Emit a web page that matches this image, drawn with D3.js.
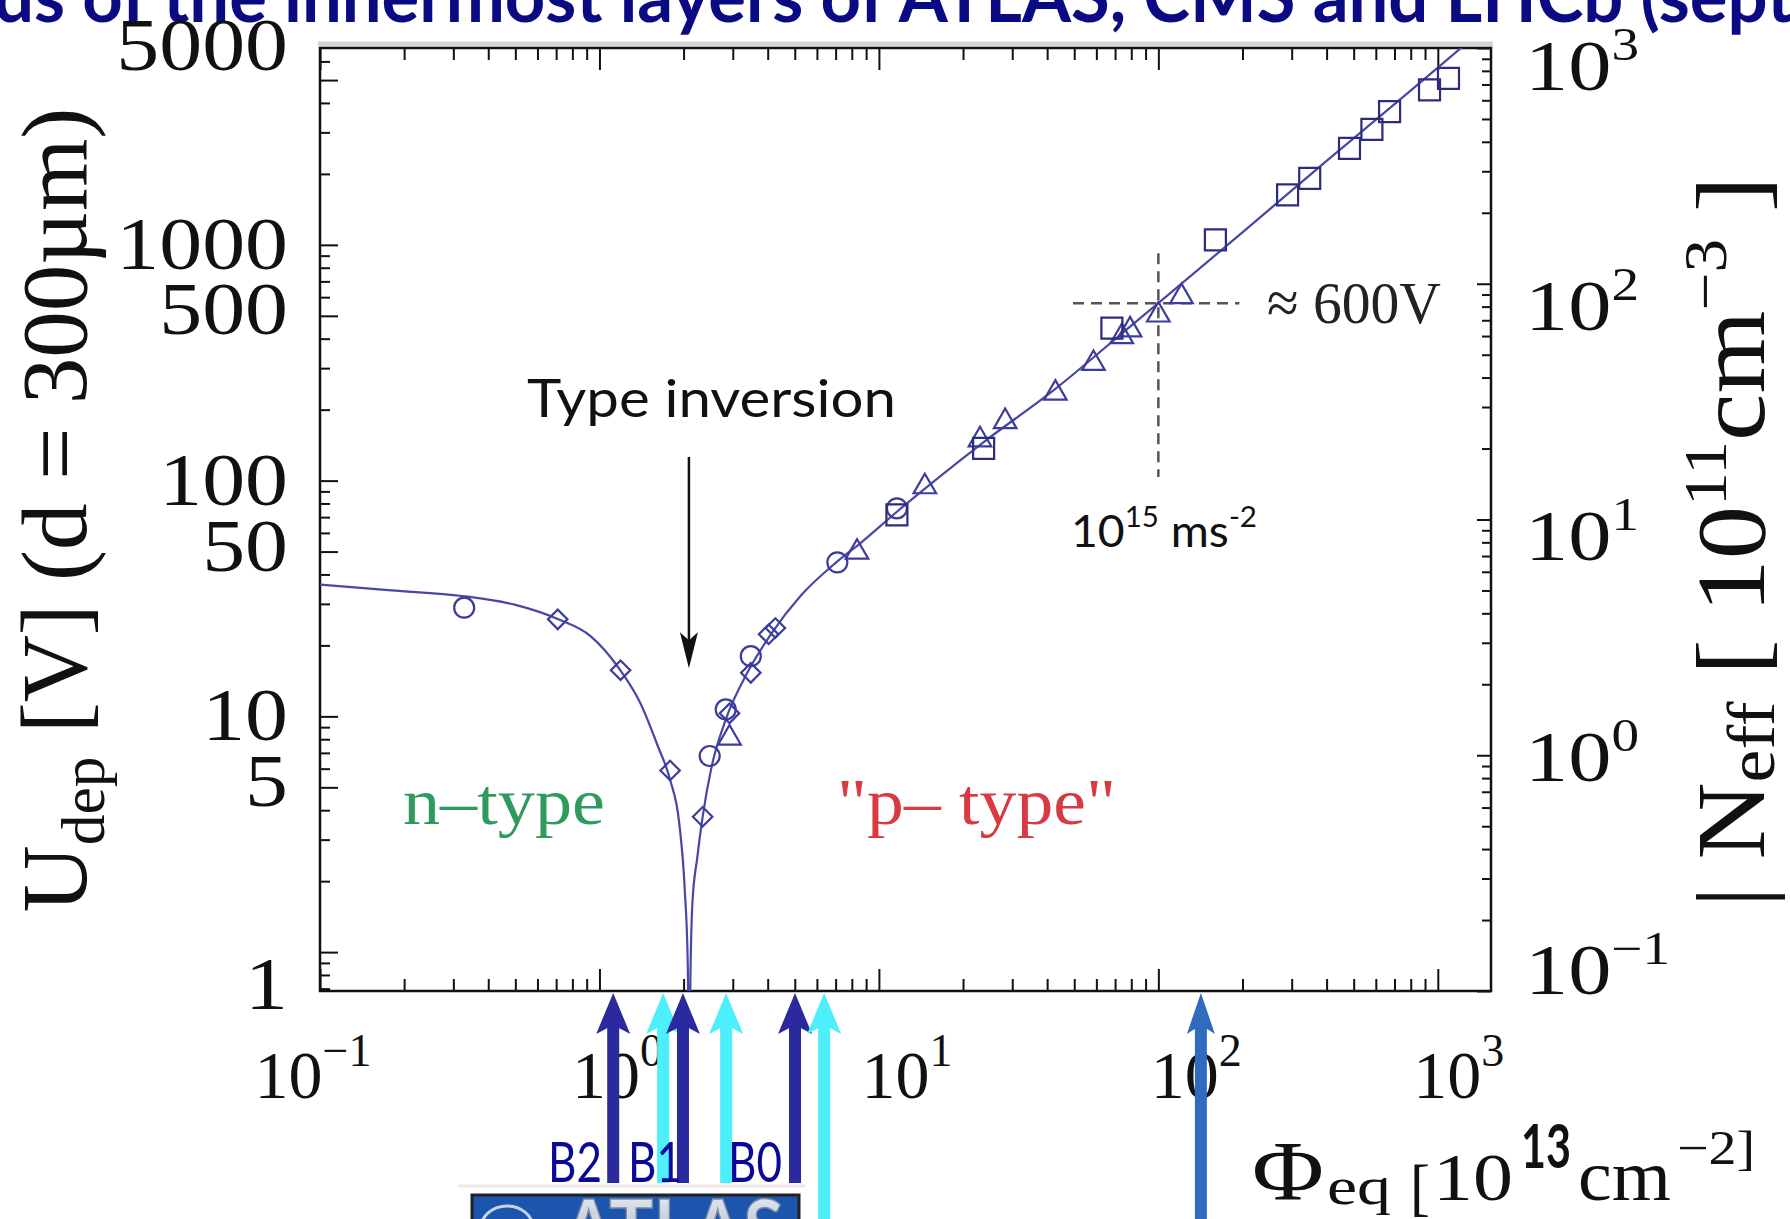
<!DOCTYPE html>
<html>
<head>
<meta charset="utf-8">
<script src="https://cdnjs.cloudflare.com/ajax/libs/d3/7.8.5/d3.min.js"></script>
<style>
  body { margin: 0; background: #fff; overflow: hidden; }
  svg { display: block; }
</style>
</head>
<body>
<svg id="chart" width="1790" height="1219"></svg>
<script>
// Depletion voltage vs. fluence.
// U in volts (d = 300um), phi in 1e13 cm^-2.

// fit line
var fitPhi = [0.1, 0.18, 0.323, 0.501, 0.713, 0.929, 1.174, 1.40, 1.62, 1.79, 1.93, 2.02, 2.07, 2.094,
  2.12, 2.15, 2.24, 2.34, 2.52, 2.83, 3.38, 4.14, 5.24, 7.02, 8.63, 11.6, 23.4, 42.8, 79.2, 100,
  200, 400, 700, 1000, 1300];
var fitU = [36.2, 34.2, 32.4, 29.7, 25.8, 21.9, 16.0, 11.4, 7.45, 5.38, 3.52, 1.83, 0.9, 0.3,
  0.9, 1.6, 2.53, 3.75, 6.12, 9.68, 15.3, 22.6, 32.4, 44.9, 54.6, 73.8, 144, 245, 450, 566,
  1130, 2270, 3950, 5650, 7350];

// measured points, one pair of arrays per marker shape
var circlePhi = [0.328, 2.48, 2.83, 3.48, 7.1, 11.6];
var circleU = [28.9, 6.79, 10.7, 18.0, 45.0, 76.3];
var diamondPhi = [0.709, 1.19, 1.79, 2.34, 2.92, 3.48, 4.03, 4.26];
var diamondU = [25.8, 15.7, 5.89, 3.75, 10.3, 15.3, 22.3, 23.7];
var trianglePhi = [2.92, 8.35, 14.6, 23.0, 28.3, 42.8, 58.6, 74.0, 79.2, 100, 121];
var triangleU = [8.09, 49.7, 94.2, 149, 178, 235, 314, 408, 436, 504, 603];
var squarePhi = [11.6, 23.7, 68.2, 160, 290, 348, 483, 581, 672, 934, 1092];
var squareU = [71.5, 137, 443, 1049, 1628, 1915, 2568, 3090, 3672, 4540, 5088];

// right axis: 1e11 cm^-3 of |Neff| corresponds to this many volts
var voltsPerNeff = 6.84;

// axis labels
var uLabels = [1, 5, 10, 50, 100, 500, 1000, 5000];
var neffExponents = [-1, 0, 1, 2, 3];
var phiExponents = [-1, 0, 1, 2, 3];

// ~600 V marker at 1e15 and the inversion arrow
var markPhi = 100, markU = 566;
var markPhiSpan = [49.5, 195], markUSpan = [103.5, 922];
var inversionPhi = 2.09, inversionUSpan = [126, 16];

// fluences of the pixel layers (arrows under the axis)
var layerPhi = [1.12, 1.69, 1.99, 2.84, 5.01, 6.37, 142];
var layerKind = ["dark", "cyan", "dark", "cyan", "dark", "cyan", "blue"];
var layerLong = [false, false, false, false, false, true, true];
var layerNames = ["B2", "B1", "B0"];

var serif = "'Liberation Serif','Times New Roman',serif";
var sans = "Lato,'Open Sans',sans-serif";
var kindColour = {dark: "#2a2a9e", cyan: "#4eeffc", blue: "#2f6cc0"};

var svg = d3.select("#chart");

var x = d3.scaleLog().domain([0.1, 1550]).range([320, 1491]);
var yN = d3.scaleLog().domain([0.1, 1000]).range([991, 48]);
var yU = d3.scaleLog().domain(yN.domain().map(function(d){ return d * voltsPerNeff; })).range(yN.range());

function isPow10(d){
  var l = Math.log10(d);
  return Math.abs(l - Math.round(l)) < 1e-6;
}

// fit a text horizontally: its box is stretched to width w (or by factor s)
function place(t, px, py, opt){
  var bb = t.node().getBBox();
  var s = opt.w ? opt.w / bb.width : (opt.s || 1);
  var off = opt.anchor === "middle" ? bb.x + bb.width / 2 : opt.anchor === "end" ? bb.x + bb.width : bb.x;
  t.attr("transform", "translate(" + px + "," + py + ") rotate(" + (opt.rot || 0) + ") scale(" + s + ",1) translate(" + (-off) + ",0)");
  return t;
}

// ---- title (cut off at the top of the slide)
var title = svg.append("text")
  .attr("font-family", sans).attr("font-weight", 700).attr("font-size", 72)
  .attr("fill", "#0a0a82")
  .text("ds of the innermost layers of ATLAS, CMS and LHCb (sept");
place(title, -6, 22, {w: 1800});

// ---- frame shadow + frame
svg.append("line").attr("x1", 318).attr("x2", 1493).attr("y1", 44).attr("y2", 44)
  .attr("stroke", "#d4d4d4").attr("stroke-width", 5);

// ---- ticks
function ticks(axis, tf){
  var g = svg.append("g").attr("transform", tf).call(axis);
  g.select(".domain").remove();
  g.selectAll("text").remove();
  g.selectAll("line").attr("stroke", "#111").attr("stroke-width", 2);
  return g;
}
var xt = x.ticks();
var xMaj = xt.filter(isPow10), xMin = xt.filter(function(d){ return !isPow10(d); });
ticks(d3.axisBottom(x).tickValues(xMaj).tickSize(-22).tickSizeOuter(0), "translate(0,991)");
ticks(d3.axisBottom(x).tickValues(xMin).tickSize(-12).tickSizeOuter(0), "translate(0,991)");
ticks(d3.axisTop(x).tickValues(xMaj).tickSize(-22).tickSizeOuter(0), "translate(0,48)");
ticks(d3.axisTop(x).tickValues(xMin).tickSize(-12).tickSizeOuter(0), "translate(0,48)");

var ut = yU.ticks();
var uMaj = ut.filter(function(d){ return uLabels.some(function(l){ return Math.abs(l - d) < 1e-9; }); });
var uMin = ut.filter(function(d){ return uMaj.indexOf(d) < 0; });
ticks(d3.axisLeft(yU).tickValues(uMaj).tickSize(-18).tickSizeOuter(0), "translate(320,0)");
ticks(d3.axisLeft(yU).tickValues(uMin).tickSize(-10).tickSizeOuter(0), "translate(320,0)");

var nt = yN.ticks();
ticks(d3.axisRight(yN).tickValues(nt.filter(isPow10)).tickSize(-14).tickSizeOuter(0), "translate(1491,0)");
ticks(d3.axisRight(yN).tickValues(nt.filter(function(d){ return !isPow10(d); })).tickSize(-9).tickSizeOuter(0), "translate(1491,0)");

svg.append("rect").attr("x", 320).attr("y", 48).attr("width", 1171).attr("height", 943)
  .attr("fill", "none").attr("stroke", "#111").attr("stroke-width", 2.5);

// ---- tick labels
var uShift = {5000: -34, 500: -6, 50: -5, 5: -5, 1: 33};
uLabels.forEach(function(v){
  var t = svg.append("text").attr("font-family", serif).attr("font-size", 74).attr("fill", "#111").text(String(v));
  place(t, 288, yU(v) + (uShift[v] || 0) + 24, {s: 1.16, anchor: "end"});
});

var nShift = {"3": 18, "2": 22, "1": 16, "0": 2, "-1": -21};
neffExponents.forEach(function(e){
  var t = svg.append("text").attr("font-family", serif).attr("font-size", 72).attr("fill", "#111");
  t.append("tspan").text("10");
  t.append("tspan").attr("font-size", 46).attr("dy", -30).text(e < 0 ? "\u2212" + (-e) : String(e));
  place(t, 1525, yN(Math.pow(10, e)) + nShift[String(e)] + 24, {s: 1.2});
});

var phiShift = {"-1": -7, "0": 18, "1": 28, "2": 38, "3": 21};
phiExponents.forEach(function(e){
  var t = svg.append("text").attr("font-family", serif).attr("font-size", 68).attr("fill", "#111");
  t.append("tspan").text("10");
  t.append("tspan").attr("font-size", 46).attr("dy", -32).text(e < 0 ? "\u2212" + (-e) : String(e));
  place(t, x(Math.pow(10, e)) + phiShift[String(e)], 1098, {anchor: "middle"});
});

// ---- axis titles
var lt = svg.append("text").attr("font-family", serif).attr("font-size", 94).attr("fill", "#111");
lt.append("tspan").text("U");
lt.append("tspan").attr("font-size", 62).attr("dy", 18).text("dep");
lt.append("tspan").attr("dy", -18).text(" [V] (d = 300\u00b5m)");
place(lt, 86, 510, {w: 805, anchor: "middle", rot: -90});

var rt = svg.append("text").attr("font-family", serif).attr("font-size", 98).attr("fill", "#111");
rt.append("tspan").text("| N");
rt.append("tspan").attr("font-size", 68).attr("dy", 10).text("eff");
rt.append("tspan").attr("dy", -10).text("  [ 10");
rt.append("tspan").attr("font-size", 62).attr("dy", -38).text("11");
rt.append("tspan").attr("dy", 38).text("cm");
rt.append("tspan").attr("font-size", 62).attr("dy", -38).text("\u22123");
rt.append("tspan").attr("dy", 38).text(" ]");
place(rt, 1764, 542, {w: 731, anchor: "middle", rot: -90});

// x title, pieces laid out as in the picture
function piece(txt, px, py, opt){
  var t = svg.append("text").attr("font-family", opt.font || serif).attr("font-size", opt.size)
    .attr("font-weight", opt.weight || 400).attr("fill", "#111").text(txt);
  return place(t, px, py, {w: opt.w});
}
piece("\u03a6", 1252, 1200, {size: 84, w: 72});
piece("eq", 1327, 1204, {size: 52, w: 64});
piece("[", 1410, 1208, {size: 64, w: 20});
piece("10", 1433, 1200, {size: 68, w: 80});
piece("13", 1521, 1168, {size: 62, w: 50, font: sans, weight: 700});
piece("cm", 1578, 1200, {size: 72, w: 93});
piece("\u22122]", 1677, 1164, {size: 48, w: 78});

// ---- plot content
var defs = svg.append("defs");
defs.append("clipPath").attr("id", "plot").append("rect")
  .attr("x", 320).attr("y", 48).attr("width", 1171).attr("height", 943);

var plot = svg.append("g").attr("clip-path", "url(#plot)");

// dashed 600 V marker
var dash = plot.append("g").attr("stroke", "#555").attr("stroke-width", 2.5).attr("stroke-dasharray", "11,7");
dash.append("line").attr("x1", x(markPhiSpan[0])).attr("x2", x(markPhiSpan[1])).attr("y1", yU(markU)).attr("y2", yU(markU));
dash.append("line").attr("x1", x(markPhi)).attr("x2", x(markPhi)).attr("y1", yU(markUSpan[1])).attr("y2", yU(markUSpan[0]));

var fit = fitPhi.map(function(p, i){ return [p, fitU[i]]; });
plot.append("path").datum(fit)
  .attr("d", d3.line().x(function(d){ return x(d[0]); }).y(function(d){ return yU(d[1]); }).curve(d3.curveMonotoneX))
  .attr("fill", "none").attr("stroke", "#4747a6").attr("stroke-width", 2.2);

function markers(phis, us, draw, colour){
  var g = plot.append("g").attr("fill", "none").attr("stroke", colour).attr("stroke-width", 2.2);
  phis.forEach(function(p, i){ draw(g, x(p), yU(us[i])); });
}
markers(circlePhi, circleU, function(g, cx, cy){
  g.append("circle").attr("cx", cx).attr("cy", cy).attr("r", 10);
}, "#3c3c9c");
markers(diamondPhi, diamondU, function(g, cx, cy){
  g.append("path").attr("d", d3.symbol(d3.symbolSquare, 190)()).attr("transform", "translate(" + cx + "," + cy + ") rotate(45)");
}, "#3c3c9c");
markers(trianglePhi, triangleU, function(g, cx, cy){
  g.append("path").attr("d", d3.symbol(d3.symbolTriangle, 220)()).attr("transform", "translate(" + cx + "," + cy + ")");
}, "#3c3c9c");
markers(squarePhi, squareU, function(g, cx, cy){
  g.append("path").attr("d", d3.symbol(d3.symbolSquare, 441)()).attr("transform", "translate(" + cx + "," + cy + ")");
}, "#2c2c7c");

// type inversion arrow
var ix = x(inversionPhi), iy0 = yU(inversionUSpan[0]), iy1 = yU(inversionUSpan[1]);
svg.append("line").attr("x1", ix).attr("x2", ix).attr("y1", iy0).attr("y2", iy1 - 20)
  .attr("stroke", "#111").attr("stroke-width", 2.5);
svg.append("path").attr("d", "M" + ix + "," + iy1 + "L" + (ix - 9) + "," + (iy1 - 36) + "L" + ix + "," + (iy1 - 28) + "L" + (ix + 9) + "," + (iy1 - 36) + "Z")
  .attr("fill", "#111");

// ---- annotations
var ti = svg.append("text").attr("font-family", sans).attr("font-size", 52).attr("fill", "#111").text("Type inversion");
place(ti, 527, 417, {w: 369});

var nty = svg.append("text").attr("font-family", serif).attr("font-size", 66).attr("fill", "#2e9a5e").text("n\u2013type");
place(nty, 403, 824, {w: 202});
var pty = svg.append("text").attr("font-family", serif).attr("font-size", 66).attr("fill", "#d83a42").text("\"p\u2013 type\"");
place(pty, 837, 824, {w: 279});

var v600 = svg.append("text").attr("font-family", serif).attr("font-size", 60).attr("fill", "#222").text("\u2248 600V");
place(v600, 1267, 323, {w: 174});

var acc = svg.append("text").attr("font-family", sans).attr("font-size", 44).attr("fill", "#111");
acc.append("tspan").text("10");
acc.append("tspan").attr("font-size", 28).attr("dy", -20).text("15");
acc.append("tspan").attr("dy", 20).text(" ms");
acc.append("tspan").attr("font-size", 28).attr("dy", -20).text("-2");
place(acc, 1071, 547, {w: 186});

// ---- layer arrows under the axis
svg.append("line").attr("x1", 458).attr("x2", 805).attr("y1", 1186).attr("y2", 1186)
  .attr("stroke", "#f3e6e6").attr("stroke-width", 3);

layerPhi.forEach(function(p, i){
  var ax = x(p), c = kindColour[layerKind[i]];
  var hw = layerKind[i] === "blue" ? 14 : 17;
  var yEnd = layerLong[i] ? 1219 : 1183;
  svg.append("rect").attr("x", ax - 6).attr("y", 1022).attr("width", 12).attr("height", yEnd - 1022).attr("fill", c);
  svg.append("path").attr("d", "M" + ax + ",993L" + (ax - hw) + ",1034L" + ax + ",1025L" + (ax + hw) + ",1034Z").attr("fill", c);
});

var layerLabelX = [548, 628, 728];
layerNames.forEach(function(n, i){
  var t = svg.append("text").attr("font-family", sans).attr("font-size", 56).attr("fill", "#0a0a96").text(n);
  place(t, layerLabelX[i], 1182, {w: 54});
});

// ATLAS badge, mostly below the edge of the slide
var grad = defs.append("linearGradient").attr("id", "silver").attr("x1", 0).attr("x2", 0).attr("y1", 0).attr("y2", 1);
grad.append("stop").attr("offset", 0).attr("stop-color", "#f4f6fa");
grad.append("stop").attr("offset", 1).attr("stop-color", "#8e9bb4");
svg.append("rect").attr("x", 472).attr("y", 1195).attr("width", 327).attr("height", 40)
  .attr("fill", "#1c55ae").attr("stroke", "#222").attr("stroke-width", 3);
svg.append("ellipse").attr("cx", 507).attr("cy", 1228).attr("rx", 26).attr("ry", 22)
  .attr("fill", "none").attr("stroke", "#c9d2e2").attr("stroke-width", 3);
var atl = svg.append("text").attr("font-family", sans).attr("font-weight", 700).attr("font-size", 82)
  .attr("fill", "url(#silver)").attr("stroke", "#7d8aa4").attr("stroke-width", 1.5).text("ATLAS");
place(atl, 562, 1259, {w: 222});
</script>
</body>
</html>
